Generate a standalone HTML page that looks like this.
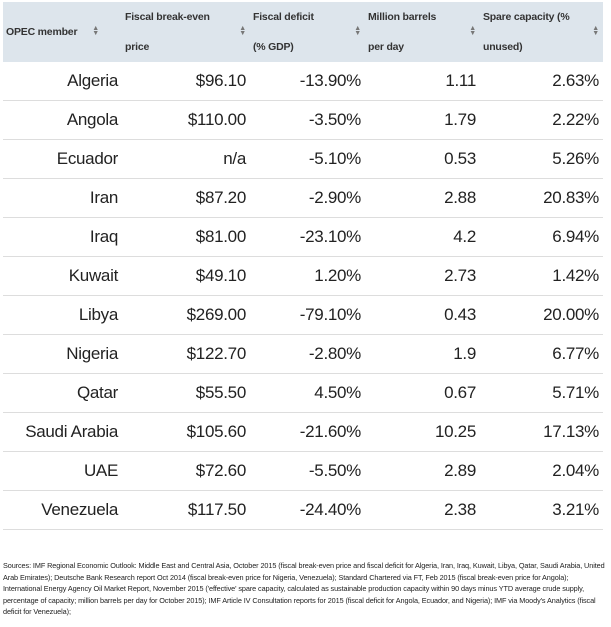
<!DOCTYPE html>
<html><head><meta charset="utf-8"><style>
body{margin:0;width:611px;height:627px;background:#fff;font-family:"Liberation Sans",sans-serif;color:#222;overflow:hidden}
table{position:absolute;left:3px;top:2px;width:600px;border-collapse:collapse;table-layout:fixed}
th{background:#dde5ec;font-size:10.5px;font-weight:bold;color:#333;text-align:left;vertical-align:middle;height:58px;padding:0 0 0 3px;position:relative;line-height:30px;white-space:nowrap;letter-spacing:-0.2px}
th .s{position:absolute;right:4px;top:24px;font-size:7px;color:#777;line-height:5px}
td{height:38px;border-bottom:1px solid #ddd;font-size:17px;text-align:right;padding:0 4px 0 0;color:#222;letter-spacing:-0.3px}
.note{position:absolute;left:3px;top:560px;width:604px;font-size:7.3px;line-height:11.6px;color:#222;letter-spacing:-0.1px}
</style></head><body>
<table>
<colgroup><col style="width:119px"><col style="width:128px"><col style="width:115px"><col style="width:115px"><col style="width:123px"></colgroup>
<tr>
<th>OPEC member<span class="s" style="right:23px">▲<br>▼</span></th>
<th>Fiscal break-even<br>price<span class="s">▲<br>▼</span></th>
<th>Fiscal deficit<br>(% GDP)<span class="s">▲<br>▼</span></th>
<th>Million barrels<br>per day<span class="s">▲<br>▼</span></th>
<th>Spare capacity (%<br>unused)<span class="s">▲<br>▼</span></th>
</tr>
<tbody id="tb"></tbody>
</table>
<div class="note">Sources: IMF Regional Economic Outlook: Middle East and Central Asia, October 2015 (fiscal break-even price and fiscal deficit for Algeria, Iran, Iraq, Kuwait, Libya, Qatar, Saudi Arabia, United Arab Emirates); Deutsche Bank Research report Oct 2014 (fiscal break-even price for Nigeria, Venezuela); Standard Chartered via FT, Feb 2015 (fiscal break-even price for Angola); International Energy Agency Oil Market Report, November 2015 ('effective' spare capacity, calculated as sustainable production capacity within 90 days minus YTD average crude supply, percentage of capacity; million barrels per day for October 2015); IMF Article IV Consultation reports for 2015 (fiscal deficit for Angola, Ecuador, and Nigeria); IMF via Moody's Analytics (fiscal deficit for Venezuela);</div>
<script>
const members=["Algeria","Angola","Ecuador","Iran","Iraq","Kuwait","Libya","Nigeria","Qatar","Saudi Arabia","UAE","Venezuela"];
const prices=["$96.10","$110.00","n/a","$87.20","$81.00","$49.10","$269.00","$122.70","$55.50","$105.60","$72.60","$117.50"];
const deficits=["-13.90%","-3.50%","-5.10%","-2.90%","-23.10%","1.20%","-79.10%","-2.80%","4.50%","-21.60%","-5.50%","-24.40%"];
const barrels=["1.11","1.79","0.53","2.88","4.2","2.73","0.43","1.9","0.67","10.25","2.89","2.38"];
const spare=["2.63%","2.22%","5.26%","20.83%","6.94%","1.42%","20.00%","6.77%","5.71%","17.13%","2.04%","3.21%"];
const tb=document.getElementById('tb');
members.forEach((m,i)=>{
const tr=document.createElement('tr');


[m,prices[i],deficits[i],barrels[i],spare[i]].forEach((v,j)=>{
const td=document.createElement('td');
td.textContent=v;


tr.appendChild(td);});
tb.appendChild(tr);});
</script>
</body></html>
